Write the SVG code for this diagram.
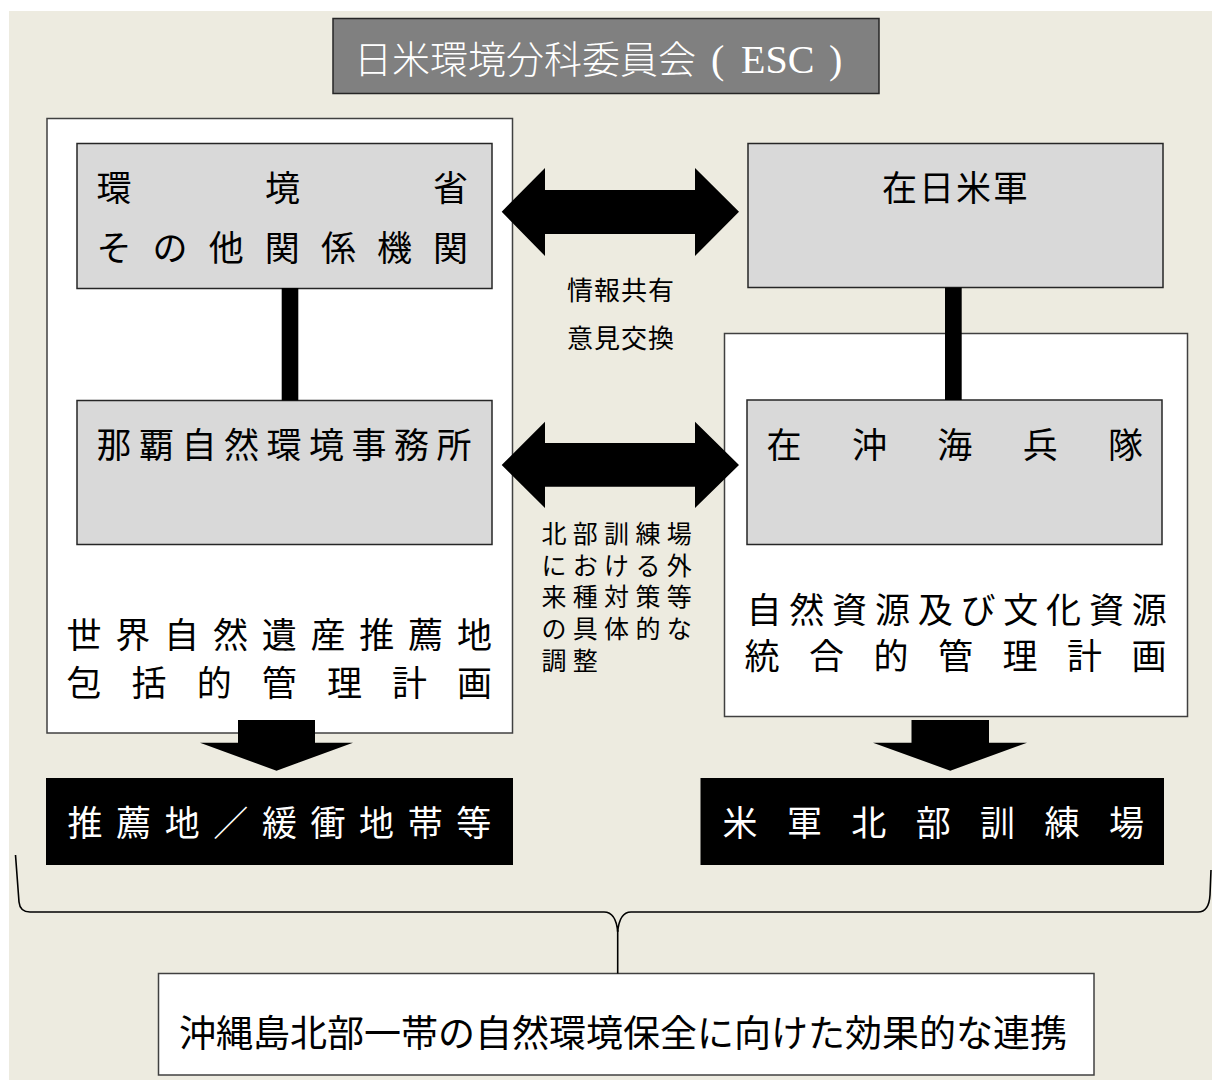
<svg xmlns="http://www.w3.org/2000/svg" width="1212" height="1080" viewBox="0 0 1212 1080">
<style>
.jp{font-family:"Noto Sans CJK JP","Noto Sans CJK SC",sans-serif;fill:#000}
.w{fill:#fff}
.gbox{fill:#D9D9D9;stroke:#262626;stroke-width:1.5}
.wbox{fill:#fff;stroke:#404040;stroke-width:1.5}
.bbox{fill:#000}
.solid{fill:#000}
.brace{fill:none;stroke:#000;stroke-width:1.6}
</style>
<rect x="0" y="0" width="1212" height="1080" fill="#fff"/>
<rect x="9" y="11" width="1203" height="1069" fill="#EDEBE0"/>

<g id="title">
<rect x="333" y="18.5" width="546" height="75" fill="#808080" stroke="#262626" stroke-width="1.5"/>
<text x="354" y="72.5" class="jp w" font-size="38" font-weight="300" textLength="342" lengthAdjust="spacing">日米環境分科委員会</text>
<text y="72.5" class="w" font-family="'Liberation Serif',serif" font-size="40"><tspan x="711">(</tspan><tspan x="741">ESC</tspan><tspan x="829">)</tspan></text>
</g>

<g id="left-plan">
<rect class="wbox" x="47" y="118.5" width="465.5" height="614.5"/>
<text class="jp" font-size="35" y="647.5" x="66.5 115.3 164.1 212.9 261.7 310.5 359.3 408.1 456.9">世界自然遺産推薦地</text>
<text class="jp" font-size="35" y="695.5" x="66.5 131.6 196.7 261.8 326.9 392.0 457.1">包括的管理計画</text>
</g>

<g id="right-plan">
<rect class="wbox" x="724.5" y="333.5" width="463" height="383"/>
<text class="jp" font-size="35" y="622.5" x="746.5 789.3 832.1 874.9 917.7 960.5 1003.3 1046.1 1088.9 1131.7">自然資源及び文化資源</text>
<text class="jp" font-size="35" y="669" x="744.5 809 873.5 938 1002.5 1067 1131.5">統合的管理計画</text>
</g>

<g id="moe">
<rect class="gbox" x="77" y="143.5" width="415" height="145"/>
<text class="jp" font-size="35" y="201" x="96.5 265 433">環境省</text>
<text class="jp" font-size="35" y="261" x="96.5 152.6 208.7 264.8 320.9 377 433.1">その他関係機関</text>
</g>

<g id="usfj">
<rect class="gbox" x="748" y="143.5" width="415" height="144"/>
<text class="jp" font-size="35" y="201" x="882 919 956 993">在日米軍</text>
</g>

<g id="naha">
<rect class="gbox" x="77" y="400.5" width="415" height="144"/>
<text class="jp" font-size="35" y="458" x="96.5 139 181.5 224 266.5 309 351.5 394 436.5">那覇自然環境事務所</text>
</g>

<g id="marines">
<rect class="gbox" x="747" y="400" width="415" height="144.5"/>
<text class="jp" font-size="35" y="457.5" x="766.5 851.9 937.3 1022.7 1108.1">在沖海兵隊</text>
</g>

<g id="candidate">
<rect class="bbox" x="46" y="778" width="467" height="87"/>
<text class="jp w" font-size="35" y="835.5" x="67.5 116.1 164.7 213.3 261.9 310.5 359.1 407.7 456.3">推薦地／緩衝地帯等</text>
</g>

<g id="training-area">
<rect class="bbox" x="700.5" y="778" width="463.5" height="87"/>
<text class="jp w" font-size="35" y="835.5" x="722.5 786.9 851.3 915.7 980.1 1044.5 1108.9">米軍北部訓練場</text>
</g>

<g id="cooperation">
<rect class="wbox" x="158.5" y="973.5" width="935.5" height="101.5"/>
<text class="jp" font-size="37" y="1047" x="179">沖縄島北部一帯の自然環境保全に向けた効果的な連携</text>
</g>

<g id="labels">
<text class="jp" font-size="26" y="299.5" x="621" text-anchor="middle" letter-spacing="1">情報共有</text>
<text class="jp" font-size="26" y="348" x="621" text-anchor="middle" letter-spacing="1">意見交換</text>
<g class="jp" font-size="25" letter-spacing="6.3">
<text x="541.5" y="543">北部訓練場</text>
<text x="541.5" y="574.7">における外</text>
<text x="541.5" y="606.4">来種対策等</text>
<text x="541.5" y="638.1">の具体的な</text>
<text x="541.5" y="669.8">調整</text>
</g>
</g>

<g id="connectors">
<rect class="solid" x="281.7" y="288" width="16.6" height="112.5"/>
<rect class="solid" x="945" y="287.5" width="16.7" height="112.5"/>
<polygon class="solid" points="501.7,211.7 545,168 545,190 695,190 695,168 739,211.7 695,256 695,234 545,234 545,256"/>
<polygon class="solid" points="501.7,465 545,421.7 545,443 695,443 695,421.7 739,465 695,508 695,486.7 545,486.7 545,508"/>
<polygon class="solid" points="238,720 315,720 315,742.7 353,742.7 276.5,770.7 200,742.7 238,742.7"/>
<polygon class="solid" points="911.5,720 989,720 989,742.7 1027,742.7 950.3,770.7 873,742.7 911.5,742.7"/>
<path class="brace" d="M15.5,855 L19,902 Q20,912 30,912 L604,912 Q616,912 617.7,932 Q619.4,912 631,912 L1198,912 Q1209,912 1210,895 L1211,870"/>
<line class="brace" x1="617.7" y1="930" x2="617.7" y2="973.5"/>
</g>
</svg>
